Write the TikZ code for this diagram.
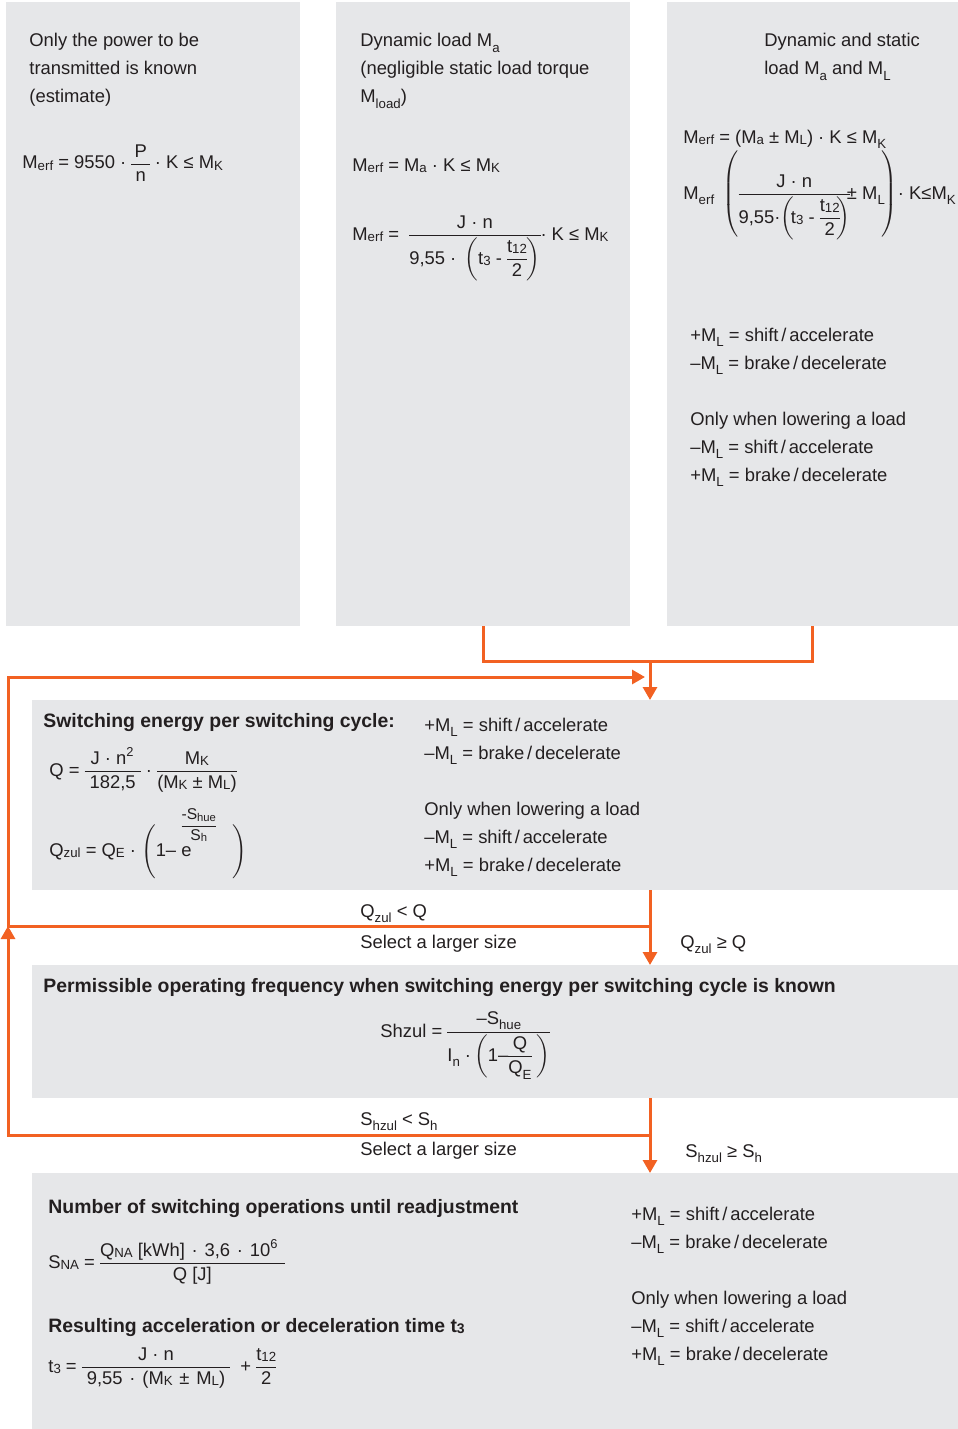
\RequirePackage{fix-cm}
\documentclass[tikz,border=0pt]{standalone}
\usepackage{fontspec}
\setmainfont{Liberation Sans}
\usepackage{amsmath}
\usepackage{graphicx}
\usetikzlibrary{arrows.meta}

\definecolor{flow}{HTML}{F26122}
\definecolor{panelgray}{HTML}{E6E7E9}
\definecolor{ink}{HTML}{231F20}

\nulldelimiterspace=0pt

% small index letters: lowered (sub) and near the baseline (ix)
\newcommand{\sub}[1]{\raisebox{-0.55ex}{\scalebox{0.72}{#1}}}
\newcommand{\ix}[1]{\raisebox{-0.15ex}{\scalebox{0.72}{#1}}}
% wide multiplication dot
\newcommand{\dt}{\hspace{3.4pt}·\hspace{3.4pt}}

\tikzset{
  panelbox/.style={fill=panelgray, inner sep=0pt, outer sep=0pt},
  txt/.style={anchor=base west, inner sep=0pt, text=ink, font=\fontsize{9.2}{14}\selectfont},
  head/.style={txt, font=\fontsize{9.7}{14}\selectfont\bfseries},
  flowline/.style={draw=flow, line width=1.5pt},
  flowarrow/.style={flowline, -{Triangle[width=7pt,length=6.5pt]}},
}

% the five lines on the sign of M_L
\newcommand{\mlnotes}[3]{%
  \node[txt] (#1-1) at (#2,#3)     {+M\sub{L} = shift\kern1.4pt/\kern1.4pt accelerate};
  \node[txt] (#1-2) at (#2,#3+28)  {–M\sub{L} = brake\kern1.4pt/\kern1.4pt decelerate};
  \node[txt] (#1-3) at (#2,#3+84)  {Only when lowering a load};
  \node[txt] (#1-4) at (#2,#3+112) {–M\sub{L} = shift\kern1.4pt/\kern1.4pt accelerate};
  \node[txt] (#1-5) at (#2,#3+140) {+M\sub{L} = brake\kern1.4pt/\kern1.4pt decelerate};
}

\begin{document}
\begin{tikzpicture}[x=0.5pt,y=-0.5pt]
  \useasboundingbox (0,0) rectangle (958,1429);

  % Panels
  \node[panelbox, minimum width=147pt, minimum height=312pt] (estBox) at (153,314) {};
  \node[panelbox, minimum width=147pt, minimum height=312pt] (dynBox) at (483,314) {};
  \node[panelbox, minimum width=145.5pt, minimum height=312pt] (statBox) at (812.5,314) {};
  \node[panelbox, minimum width=463pt, minimum height=95pt] (energyBox) at (495,795) {};
  \node[panelbox, minimum width=463pt, minimum height=66.5pt] (freqBox) at (495,1031.5) {};
  \node[panelbox, minimum width=463pt, minimum height=128pt] (opsBox) at (495,1301) {};

  % Power only
  \node[txt] (estA) at (29,47)  {Only the power to be};
  \node[txt] (estB) at (29,75)  {transmitted is known};
  \node[txt] (estC) at (29,103) {(estimate)};
  \node[txt] (estF) at (22,169) {M\ix{erf} = 9550 · $\dfrac{\text{\,P\,}}{\text{n}}$ · K ≤ M\ix{K}};

  % Dynamic load
  \node[txt] (dynA) at (360,47)  {Dynamic load M\sub{a}};
  \node[txt] (dynB) at (360,75)  {(negligible static load torque};
  \node[txt] (dynC) at (360,103) {M\sub{load})};
  \node[txt] (dynF1) at (352,171) {M\ix{erf} = M\ix{a} · K ≤ M\ix{K}};
  \node[txt] (dynF2) at (352,240) {M\ix{erf} = \ $\dfrac{\text{J · n}}{\text{9,55 · }\left(\text{t\ix{3} - }\dfrac{\text{t\ix{12}}}{\text{2}}\right)}$· K ≤ M\ix{K}};

  % Dynamic and static load
  \node[txt] (statA) at (764,47) {Dynamic and static};
  \node[txt] (statB) at (764,75) {load M\sub{a} and M\sub{L}};
  \node[txt] (statF1) at (683,143) {M\ix{erf} = (M\ix{a} ± M\ix{L}) · K ≤ M\sub{K}};
  \node[txt] (statF2) at (683,199) {M\sub{erf} \,$\left(\dfrac{\text{J · n}}{\text{9,55·}\!\left(\!\text{t\ix{3} - }\dfrac{\text{t\ix{12}}}{\text{2}}\!\right)}\!\text{± M\sub{L}}\!\right)$· K≤M\sub{K}};
  \mlnotes{statNote}{690}{341}

  % Switching energy
  \node[head] (energyHead) at (43,727) {Switching energy per switching cycle:};
  \node[txt] (energyF1) at (49,776) {Q = $\dfrac{\text{\hspace{3pt}J · n\textsuperscript{2}\hspace{3pt}}}{\text{182,5}}\;\text{·}\;\dfrac{\text{M\ix{K}}}{\text{(M\ix{K} ± M\ix{L})}}$};
  \node[txt] (energyF2) at (49,856) {Q\ix{zul} = Q\ix{E} · $\Bigg(\text{1– e\kern-5pt\raisebox{13pt}{\scalebox{0.85}{$\dfrac{\text{-S\ix{hue}}}{\text{S\ix{h}}}$}}}\hspace{8pt}\Bigg)$};
  \mlnotes{energyNote}{424}{731}

  \node[txt] (lessQ) at (360,917)   {Q\sub{zul} < Q};
  \node[txt] (largerQ) at (360,948) {Select a larger size};
  \node[txt] (okQ) at (680,948)     {Q\sub{zul} ≥ Q};

  % Operating frequency
  \node[head] (freqHead) at (43,992) {Permissible operating frequency when switching energy per switching cycle is known};
  \node[txt] (freqF) at (380,1037) {Shzul = $\dfrac{\text{–S\sub{hue}}}{\text{I\sub{n} ·}\left(\text{1–}\dfrac{\text{Q}}{\text{Q\sub{E}}}\;\right)}$};

  \node[txt] (lessS) at (360,1125)   {S\sub{hzul} < S\sub{h}};
  \node[txt] (largerS) at (360,1155) {Select a larger size};
  \node[txt] (okS) at (685,1157)     {S\sub{hzul} ≥ S\sub{h}};

  % Readjustment
  \node[head] (opsHead) at (48,1213) {Number of switching operations until readjustment};
  \node[txt] (opsF1) at (48,1268) {S\ix{NA} = $\dfrac{\text{Q\ix{NA} [kWh]\dt 3,6\dt 10\textsuperscript{6}\hspace{3pt}}}{\text{Q [J]}}$};
  \node[head] (opsHead2) at (48,1332) {Resulting acceleration or deceleration time t\ix{3}};
  \node[txt] (opsF2) at (48,1372) {t\ix{3} = $\dfrac{\text{J · n}}{\text{\hspace{2.5pt}9,55\dt(M\ix{K}\hspace{3.4pt}±\hspace{3.4pt}M\ix{L})\hspace{2.5pt}}}$ \ + $\dfrac{\text{t\ix{12}}}{\text{2}}$};
  \mlnotes{opsNote}{631}{1220}

  % Arrows
  \coordinate (join) at (650,661);
  \coordinate (entry) at (645,677);
  \coordinate (loopTop) at (8,677);
  \coordinate (loopQ) at (8,926);
  \coordinate (loopS) at (8,1135);
  \coordinate (forkQ) at (650,926);
  \coordinate (forkS) at (650,1135);

  \draw[flowline] (dynBox.south) |- (join) -| (statBox.south);
  \draw[flowarrow] (join) -- (join |- energyBox.north);
  \draw[flowarrow] (energyBox.south -| join) -- (freqBox.north -| join);
  \draw[flowarrow] (freqBox.south -| join) -- (opsBox.north -| join);
  \draw[flowarrow] (forkQ) -- (loopQ) -- (loopTop) -- (entry);
  \draw[flowarrow] (forkS) -- (loopS) -- (loopQ);

\end{tikzpicture}
\end{document}
